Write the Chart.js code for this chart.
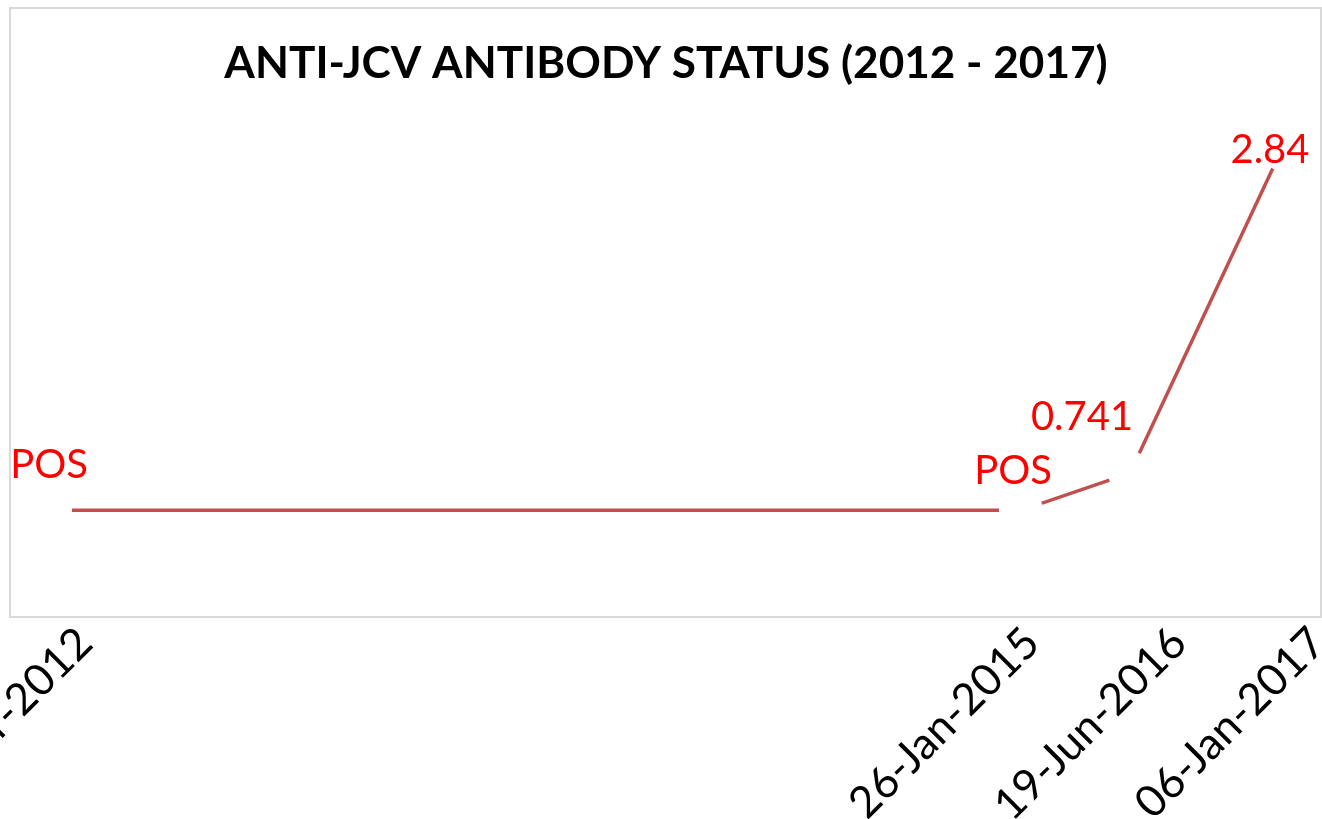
<!DOCTYPE html>
<html>
<head>
<meta charset="utf-8">
<script src="https://cdn.jsdelivr.net/npm/chart.js@4.4.1/dist/chart.umd.min.js"></script>
<style>
  html, body { margin: 0; padding: 0; background: #fff; }
  canvas { display: block; }
</style>
</head>
<body>
<canvas id="jcvChart" width="1322" height="819"></canvas>
<script>
// data
const chartTitle = 'ANTI-JCV ANTIBODY STATUS (2012 - 2017)';
const dateLabels = ['01-Apr-2012', '26-Jan-2015', '19-Jun-2016', '06-Jan-2017'];
const pointLabels = ['POS', 'POS', '0.741', '2.84'];
const indexValues = [0.5, 0.5, 0.741, 2.84];   // POS drawn at ~0.5
const xPos = [40, 1011, 1120, 1272];           // horizontal position of each test
const tickPos = [75, 1022, 1169, 1308];        // where excel put the date labels

// label offsets from the point (px), labels were placed by hand in the original
const labelShift = [[-1, -45], [-8, -39], [-48, -56], [-12, 1]];

const frameAndTitle = {
    id: 'frameAndTitle',
    beforeDraw(chart) {
        const { ctx, chartArea: a } = chart;
        ctx.save();
        ctx.strokeStyle = '#d9d9d9';
        ctx.lineWidth = 2;
        ctx.strokeRect(a.left, a.top, a.right - a.left, a.bottom - a.top);
        ctx.restore();
    },
    afterDatasetsDraw(chart) {
        const ctx = chart.ctx;
        ctx.save();
        // title, scaled to the width it has in the picture
        ctx.font = 'bold 100px Lato';
        const w = ctx.measureText(chartTitle).width;
        ctx.font = 'bold ' + (100 * 883 / w).toFixed(1) + 'px Lato';
        ctx.fillStyle = '#000';
        ctx.textAlign = 'center';
        ctx.textBaseline = 'middle';
        ctx.fillText(chartTitle, 666, 64);

        // data labels
        ctx.font = '40px Lato';
        ctx.fillStyle = '#ff0000';
        chart.getDatasetMeta(0).data.forEach((pt, i) => {
            ctx.fillText(pointLabels[i], pt.x + labelShift[i][0], pt.y + labelShift[i][1]);
        });
        ctx.restore();
    }
};

new Chart(document.getElementById('jcvChart'), {
    type: 'line',
    data: {
        datasets: [{
            data: xPos.map((x, i) => ({ x: x, y: indexValues[i] })),
            borderColor: '#c0504d',
            borderWidth: 3.5,
            pointRadius: 22,
            pointHoverRadius: 22,
            pointBackgroundColor: '#ffffff',
            pointBorderWidth: 0,
            tension: 0
        }]
    },
    plugins: [frameAndTitle],
    options: {
        responsive: false,
        animation: false,
        layout: { autoPadding: false, padding: { left: 10, right: 1, top: 8, bottom: 0 } },
        plugins: {
            legend: { display: false },
            tooltip: { enabled: false }
        },
        scales: {
            x: {
                type: 'linear',
                min: 0,
                max: 1311,
                grid: { display: false, drawTicks: false },
                border: { display: false },
                afterBuildTicks: axis => {
                    axis.ticks = tickPos.map(v => ({ value: v }));
                },
                afterFit: axis => {
                    axis.height = 202;
                    axis.paddingLeft = 0;
                    axis.paddingRight = 0;
                },
                ticks: {
                    autoSkip: false,
                    minRotation: 45,
                    maxRotation: 45,
                    padding: 0,
                    color: '#000',
                    font: { family: 'Lato', size: 44 },
                    callback: (v, i) => dateLabels[i]
                }
            },
            y: {
                display: false,
                min: -0.19,
                max: 3.75
            }
        }
    }
});
</script>
</body>
</html>
